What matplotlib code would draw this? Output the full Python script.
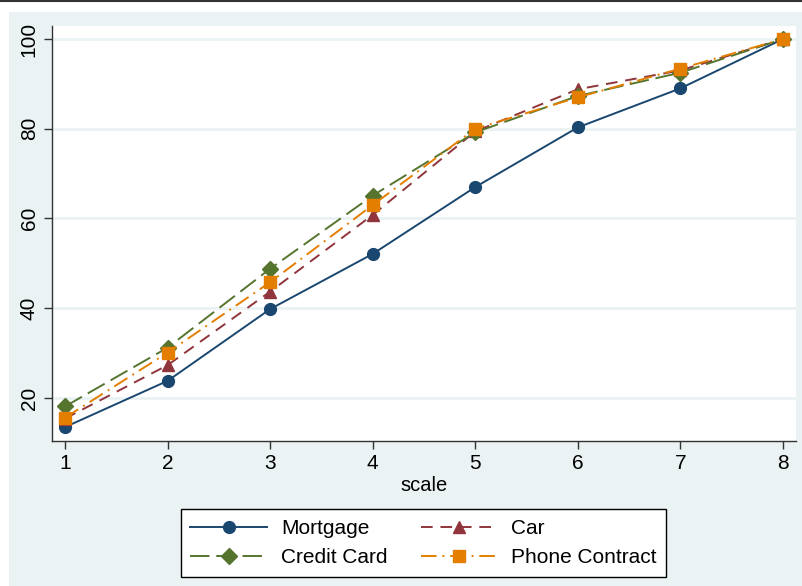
import matplotlib
matplotlib.use("Agg")
import matplotlib.pyplot as plt
from matplotlib.patches import Rectangle
from matplotlib.lines import Line2D

# data
scale = [1, 2, 3, 4, 5, 6, 7, 8]
mortgage = [13.5, 23.8, 39.8, 52.1, 67.0, 80.3, 89.0, 100.0]
car = [15.4, 27.3, 43.7, 60.8, 79.4, 88.8, 93.0, 100.0]
credit_card = [18.1, 31.2, 48.8, 65.1, 79.2, 87.3, 92.5, 100.0]
phone_contract = [15.6, 30.1, 45.8, 63.0, 80.0, 87.0, 93.4, 100.0]

plt.rcParams['font.family'] = ['Liberation Sans', 'DejaVu Sans']

W, H = 803, 586
fig = plt.figure(figsize=(W / 100, H / 100), dpi=100, facecolor='white')

# stata-like outer background
fig.patches.append(Rectangle((9 / W, 0), 1, 1 - 12 / H, transform=fig.transFigure,
                             facecolor='#eaf2f3', edgecolor='none', zorder=-10))
fig.lines.append(Line2D([0, 1], [1 - 1 / H, 1 - 1 / H], transform=fig.transFigure,
                        color='#333333', lw=1.5))

ax = fig.add_axes([52 / W, 1 - 441 / H, (796 - 52) / W, (441 - 26) / H])
ax.set_facecolor('white')

lw = 1.4
h1, = ax.plot(scale, mortgage, color='#1a476f', lw=lw, ls='-', marker='o', ms=8.5,
              label='Mortgage')
h2, = ax.plot(scale, car, color='#90353b', lw=lw, ls=(0, (6, 4)), marker='^', ms=9,
              label='Car')
h3, = ax.plot(scale, credit_card, color='#55752f', lw=lw, ls=(0, (10, 3.5)), marker='D', ms=8,
              label='Credit Card')
h4, = ax.plot(scale, phone_contract, color='#e37e00', lw=lw, ls=(0, (8, 3, 1, 3)), marker='s',
              ms=8.5, label='Phone Contract')

ax.set_xlim(0.873, 8.127)
ax.set_ylim(10.4, 102.9)
ax.set_xticks(scale)
ax.set_yticks([20, 40, 60, 80, 100])
ax.tick_params(labelsize=15, length=6, width=1, color='#333333', direction='out')
for lab in ax.get_yticklabels():
    lab.set_rotation(90)
    lab.set_va('center')
ax.yaxis.grid(True, color='#eaf2f3', lw=2)
ax.set_axisbelow(True)
for s in ['top', 'right']:
    ax.spines[s].set_visible(False)
for s in ['left', 'bottom']:
    ax.spines[s].set_color('#333333')
    ax.spines[s].set_linewidth(1)

ax.set_xlabel('scale', fontsize=14.5, labelpad=2)

# row-wise order like stata: Mortgage, Car / Credit Card, Phone Contract
handles = [h1, h3, h2, h4]
leg = fig.legend(handles=handles, labels=[h.get_label() for h in handles],
                 loc='center', bbox_to_anchor=(423.5 / W, 1 - 543 / H), ncol=2,
                 fontsize=15, handlelength=3.7, handletextpad=0.65, frameon=True,
                 fancybox=False, edgecolor='black', facecolor='white', framealpha=1,
                 columnspacing=1.6, labelspacing=0.5, borderpad=0.45)
leg.get_frame().set_linewidth(1)

fig.savefig('out.png', dpi=100, facecolor=fig.get_facecolor())
